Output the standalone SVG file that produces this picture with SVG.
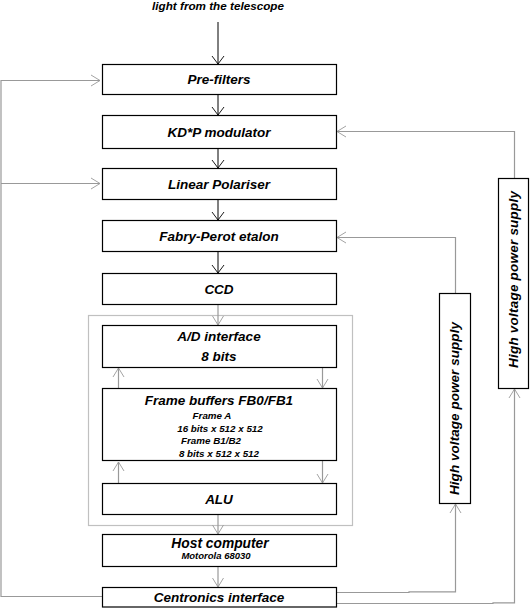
<svg xmlns="http://www.w3.org/2000/svg" width="530" height="608" viewBox="0 0 530 608">
<style>
  .box { fill: #fff; stroke: #000; stroke-width: 1.2; }
  .encl { fill: none; stroke: #c0c0c0; stroke-width: 1.2; }
  .t { font-family: "Liberation Sans", Arial, sans-serif; font-weight: bold; font-style: italic; fill: #000; text-anchor: middle; }
  .m { font-size: 13.5px; }
  .s { font-size: 9.8px; }
  .hv { font-size: 13.5px; }
  .cb { fill: none; stroke: #000; stroke-width: 1; }
  .cg { fill: none; stroke: #999; stroke-width: 1.2; }
</style>
<defs>
  <marker id="ab" markerUnits="userSpaceOnUse" markerWidth="12" markerHeight="14" refX="10" refY="7" orient="auto">
    <path d="M2,1 L10,7 L2,13" fill="none" stroke="#000" stroke-width="0.9"/>
  </marker>
  <marker id="ag" markerUnits="userSpaceOnUse" markerWidth="12" markerHeight="14" refX="10" refY="7" orient="auto">
    <path d="M1,1.5 L10,7 L1,12.5" fill="none" stroke="#999" stroke-width="0.9"/>
  </marker>
</defs>

<text class="t" x="218" y="10" font-size="11.7px">light from the telescope</text>

<rect class="encl" x="88.5" y="315.5" width="264" height="210"/>

<g id="connectors">
  <line class="cb" x1="218" y1="22" x2="218" y2="64" marker-end="url(#ab)"/>
  <line class="cb" x1="218" y1="94" x2="218" y2="115" marker-end="url(#ab)"/>
  <line class="cb" x1="218" y1="148" x2="218" y2="168" marker-end="url(#ab)"/>
  <line class="cb" x1="218" y1="199" x2="218" y2="220" marker-end="url(#ab)"/>
  <line class="cb" x1="218" y1="251" x2="218" y2="273" marker-end="url(#ab)"/>
  <line class="cg" x1="218" y1="304" x2="218" y2="325" marker-end="url(#ag)"/>
  <line class="cg" x1="118.5" y1="388" x2="118.5" y2="368" marker-end="url(#ag)"/>
  <line class="cg" x1="322.5" y1="367" x2="322.5" y2="388" marker-end="url(#ag)"/>
  <line class="cg" x1="118.5" y1="483" x2="118.5" y2="462" marker-end="url(#ag)"/>
  <line class="cg" x1="322.5" y1="461" x2="322.5" y2="483" marker-end="url(#ag)"/>
  <line class="cg" x1="218" y1="514" x2="218" y2="534" marker-end="url(#ag)"/>
  <line class="cg" x1="218" y1="567" x2="218" y2="587" marker-end="url(#ag)"/>
  <polyline class="cg" points="102,596.5 1,596.5 1,80.5 100,80.5" marker-end="url(#ag)"/>
  <line class="cg" x1="1" y1="183.5" x2="100" y2="183.5" marker-end="url(#ag)"/>
  <polyline class="cg" points="336,592.5 409,592.5 409,591.8 455.5,591.8 455.5,504" marker-end="url(#ag)"/>
  <polyline class="cg" points="336,603.5 493,603.5 493,602.8 514.5,602.8 514.5,389" marker-end="url(#ag)"/>
  <polyline class="cg" points="455.5,293 455.5,237.5 337,237.5" marker-end="url(#ag)"/>
  <polyline class="cg" points="514.5,178 514.5,131.5 337,131.5" marker-end="url(#ag)"/>
</g>

<g id="prefilters">
  <rect class="box" x="102.5" y="64.5" width="234" height="30"/>
  <text class="t m" x="219" y="84">Pre-filters</text>
</g>
<g id="kdp">
  <rect class="box" x="102.5" y="115.5" width="234" height="33"/>
  <text class="t m" x="219" y="136.5">KD*P modulator</text>
</g>
<g id="polariser">
  <rect class="box" x="102.5" y="168.5" width="234" height="31"/>
  <text class="t m" x="219" y="188.5">Linear Polariser</text>
</g>
<g id="fabry">
  <rect class="box" x="102.5" y="220.5" width="234" height="31"/>
  <text class="t m" x="219" y="240.5">Fabry-Perot etalon</text>
</g>
<g id="ccd">
  <rect class="box" x="102.5" y="273.5" width="234" height="31"/>
  <text class="t m" x="219" y="293.5">CCD</text>
</g>
<g id="ad">
  <rect class="box" x="102.5" y="325.5" width="234" height="42"/>
  <text class="t m" x="219" y="340.5">A/D interface</text>
  <text class="t m" x="219" y="361">8 bits</text>
</g>
<g id="framebuffers">
  <rect class="box" x="102.5" y="388.5" width="234" height="72"/>
  <text class="t m" x="219" y="404.5" font-size="13.7px">Frame buffers FB0/FB1</text>
  <text class="t s" x="212" y="419">Frame A</text>
  <text class="t s" x="220" y="432">16 bits x 512 x 512</text>
  <text class="t s" x="211" y="444">Frame B1/B2</text>
  <text class="t s" x="219" y="456.5">8 bits x 512 x 512</text>
</g>
<g id="alu">
  <rect class="box" x="102.5" y="483.5" width="234" height="31"/>
  <text class="t m" x="219" y="504">ALU</text>
</g>
<g id="host">
  <rect class="box" x="102.5" y="534.5" width="234" height="32"/>
  <text class="t" x="220" y="548" font-size="13.8px">Host computer</text>
  <text class="t" x="216" y="559" font-size="9.5px">Motorola 68030</text>
</g>
<g id="centronics">
  <rect class="box" x="102.5" y="587.5" width="234" height="19.5"/>
  <text class="t m" x="219" y="602">Centronics interface</text>
</g>
<g id="hv1">
  <rect class="box" x="439.5" y="293.5" width="31" height="210"/>
  <text class="t hv" transform="translate(459,408.5) rotate(-90)" textLength="173" lengthAdjust="spacing">High voltage power supply</text>
</g>
<g id="hv2">
  <rect class="box" x="498.5" y="178.5" width="30" height="210"/>
  <text class="t hv" transform="translate(518,279.5) rotate(-90)" textLength="177" lengthAdjust="spacing">High voltage power supply</text>
</g>
</svg>
